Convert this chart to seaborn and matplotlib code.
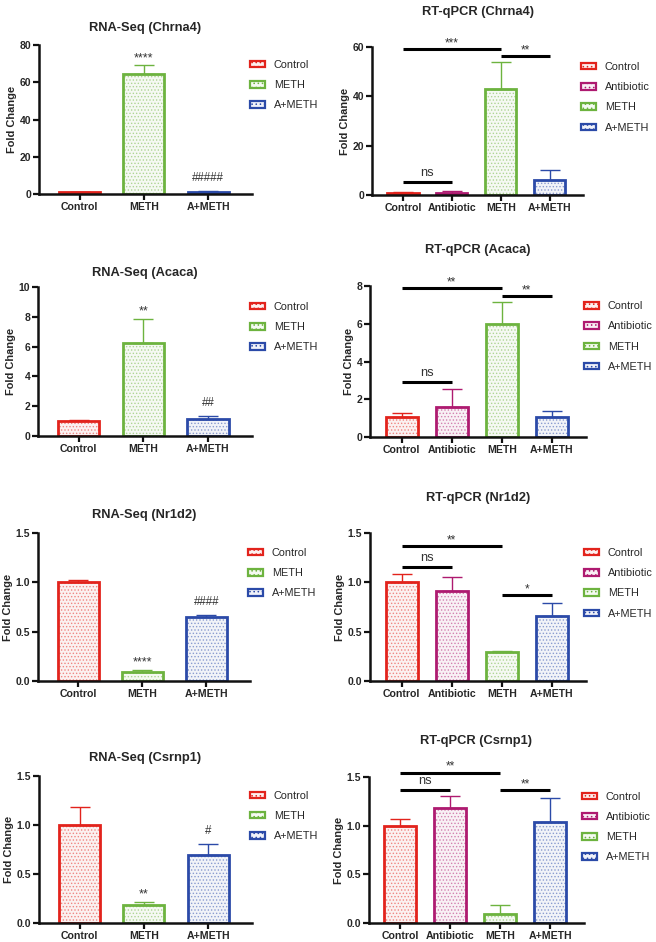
import numpy as np
import matplotlib
matplotlib.use('Agg')
import matplotlib.pyplot as plt
import matplotlib.colors as mcolors
from matplotlib.patches import Patch
import seaborn as sns

# groups
rna_groups = ['Control', 'METH', 'A+METH']
qpcr_groups = ['Control', 'Antibiotic', 'METH', 'A+METH']

# Chrna4
chrna4_rna_mean = [1.0, 64.6, 1.2]
chrna4_rna_err = [0.2, 4.4, 0.6]
chrna4_rna_marks = ['', '****', '#####']
chrna4_qpcr_mean = [1.0, 0.8, 43.1, 5.9]
chrna4_qpcr_err = [0.2, 0.8, 10.8, 4.3]
chrna4_qpcr_brackets = [(0, 2, 59.0, '***'), (2, 3, 56.3, '**'), (0, 1, 5.4, 'ns')]

# Acaca
acaca_rna_mean = [1.0, 6.25, 1.16]
acaca_rna_err = [0.1, 1.6, 0.18]
acaca_rna_marks = ['', '**', '##']
acaca_qpcr_mean = [1.04, 1.59, 5.99, 1.08]
acaca_qpcr_err = [0.25, 0.97, 1.15, 0.28]
acaca_qpcr_brackets = [(0, 2, 7.89, '**'), (2, 3, 7.46, '**'), (0, 1, 2.9, 'ns')]

# Nr1d2
nr1d2_rna_mean = [1.0, 0.09, 0.645]
nr1d2_rna_err = [0.025, 0.025, 0.027]
nr1d2_rna_marks = ['', '****', '####']
nr1d2_qpcr_mean = [1.0, 0.91, 0.295, 0.662]
nr1d2_qpcr_err = [0.085, 0.14, 0.01, 0.13]
nr1d2_qpcr_brackets = [(0, 2, 1.365, '**'), (0, 1, 1.155, 'ns'), (2, 3, 0.868, '*')]

# Csrnp1
csrnp1_rna_mean = [1.0, 0.187, 0.689]
csrnp1_rna_err = [0.18, 0.027, 0.115]
csrnp1_rna_marks = ['', '**', '#']
csrnp1_qpcr_mean = [1.0, 1.18, 0.092, 1.037]
csrnp1_qpcr_err = [0.07, 0.12, 0.09, 0.25]
csrnp1_qpcr_brackets = [(0, 2, 1.545, '**'), (0, 1, 1.364, 'ns'), (2, 3, 1.364, '**')]

colors = {'Control': '#E2231C', 'Antibiotic': '#AE1A70', 'METH': '#6DB33F', 'A+METH': '#2B4AA8'}

sns.set_style('ticks')
plt.rcParams['font.family'] = ['Liberation Sans', 'DejaVu Sans']
plt.rcParams['hatch.linewidth'] = 0.6

W, H = 656, 942


def tint(c, f):
    rgb = np.array(mcolors.to_rgb(c))
    return tuple(1 - (1 - rgb) * f)


def draw(ax, title, groups, means, errs, ymax, yticks, marks=None, brackets=None, pad=10):
    pale = {g: tint(colors[g], 0.07) for g in groups}
    full = {g: colors[g] for g in groups}
    sns.barplot(x=groups, y=means, hue=groups, palette=pale, width=0.64, linewidth=0,
                errorbar=None, legend=False, ax=ax)
    bars = list(ax.patches)
    for g, b in zip(groups, bars):
        b.set_hatch('.....')
        b.set_edgecolor(tint(colors[g], 0.55))
        b.set_linewidth(0)
    sns.barplot(x=groups, y=means, hue=groups, palette=full, width=0.64, fill=False,
                linewidth=2.0, errorbar=None, legend=False, ax=ax)
    for g, b, m, e in zip(groups, bars, means, errs):
        xc = b.get_x() + b.get_width() / 2
        ax.errorbar(xc, m, yerr=[[0], [e]], color=colors[g], lw=1, capsize=7.5, capthick=1)
        if marks:
            mk = marks[groups.index(g)]
            if mk:
                if '*' in mk:
                    ax.annotate(mk, (xc, m + e), xytext=(0, 1), textcoords='offset points',
                                ha='center', va='bottom', fontsize=9, color='#333333')
                else:
                    ax.annotate(mk, (xc, m + e), xytext=(0, 5), textcoords='offset points',
                                ha='center', va='bottom', fontsize=8.3, color='#333333')
    if brackets:
        for i1, i2, y, lab in brackets:
            x1 = bars[i1].get_x() + bars[i1].get_width() / 2
            x2 = bars[i2].get_x() + bars[i2].get_width() / 2
            ax.plot([x1, x2], [y, y], color='black', lw=2.2, solid_capstyle='butt', clip_on=False)
            if lab == 'ns':
                ax.annotate(lab, ((x1 + x2) / 2, y), xytext=(0, 2), textcoords='offset points',
                            ha='center', va='bottom', fontsize=9.3, color='#333333',
                            annotation_clip=False)
            else:
                ax.annotate(lab, ((x1 + x2) / 2, y), xytext=(0, 0), textcoords='offset points',
                            ha='center', va='bottom', fontsize=8.5, color='#333333',
                            annotation_clip=False)

    n = len(groups)
    ax.set_xlim(-0.63, n - 1 + 0.68)
    ax.set_ylim(0, ymax)
    fmt = '{:.1f}' if any(t != int(t) for t in yticks) else '{:.0f}'
    ax.set_yticks(yticks, labels=[fmt.format(t) for t in yticks], fontweight='bold', fontsize=7.5)
    ax.set_xticks(range(n), labels=groups, fontweight='bold', fontsize=7.6)
    ax.tick_params(width=1.6, length=4, direction='out', color='#111111', pad=1.5)
    for s in ['left', 'bottom']:
        ax.spines[s].set_linewidth(1.8)
        ax.spines[s].set_color('#111111')
    sns.despine(ax=ax)
    ax.set_ylabel('Fold Change', fontsize=7.9, fontweight='bold', labelpad=2)
    ax.set_title(title, fontsize=9.3, fontweight='bold', pad=pad)

    handles = [Patch(facecolor=tint(colors[g], 0.07), edgecolor=colors[g], hatch='....',
                     lw=1.6, label=g) for g in groups]
    ax.legend(handles=handles, loc='upper left', bbox_to_anchor=(0.99, 0.9), frameon=False,
              fontsize=7.8, handlelength=1.4, handleheight=0.55, handletextpad=0.8,
              labelspacing=0.95, borderaxespad=0, borderpad=0)


fig = plt.figure(figsize=(W / 100, H / 100), dpi=100)


def box(l, r, t, b):
    return fig.add_axes([l / W, 1 - b / H, (r - l) / W, (b - t) / H])


panels = [
    (box(39, 252, 45, 194), 'RNA-Seq (Chrna4)', rna_groups, chrna4_rna_mean, chrna4_rna_err, 80,
     [0, 20, 40, 60, 80], chrna4_rna_marks, None, 10),
    (box(372, 583, 47, 195), 'RT-qPCR (Chrna4)', qpcr_groups, chrna4_qpcr_mean, chrna4_qpcr_err, 60,
     [0, 20, 40, 60], None, chrna4_qpcr_brackets, 23),
    (box(38, 252, 287, 436), 'RNA-Seq (Acaca)', rna_groups, acaca_rna_mean, acaca_rna_err, 10,
     [0, 2, 4, 6, 8, 10], acaca_rna_marks, None, 8),
    (box(370, 586, 286, 437), 'RT-qPCR (Acaca)', qpcr_groups, acaca_qpcr_mean, acaca_qpcr_err, 8,
     [0, 2, 4, 6, 8], None, acaca_qpcr_brackets, 24),
    (box(38, 250, 533, 681), 'RNA-Seq (Nr1d2)', rna_groups, nr1d2_rna_mean, nr1d2_rna_err, 1.5,
     [0, 0.5, 1.0, 1.5], nr1d2_rna_marks, None, 11),
    (box(370, 586, 533, 681), 'RT-qPCR (Nr1d2)', qpcr_groups, nr1d2_qpcr_mean, nr1d2_qpcr_err, 1.5,
     [0, 0.5, 1.0, 1.5], None, nr1d2_qpcr_brackets, 23),
    (box(39, 252, 776, 923), 'RNA-Seq (Csrnp1)', rna_groups, csrnp1_rna_mean, csrnp1_rna_err, 1.5,
     [0, 0.5, 1.0, 1.5], csrnp1_rna_marks, None, 11),
    (box(369, 584, 777, 923), 'RT-qPCR (Csrnp1)', qpcr_groups, csrnp1_qpcr_mean, csrnp1_qpcr_err, 1.5,
     [0, 0.5, 1.0, 1.5], None, csrnp1_qpcr_brackets, 24),
]

for ax, title, groups, means, errs, ymax, yticks, marks, brackets, pad in panels:
    draw(ax, title, groups, means, errs, ymax, yticks, marks, brackets, pad)

fig.savefig('out.png', dpi=100)
